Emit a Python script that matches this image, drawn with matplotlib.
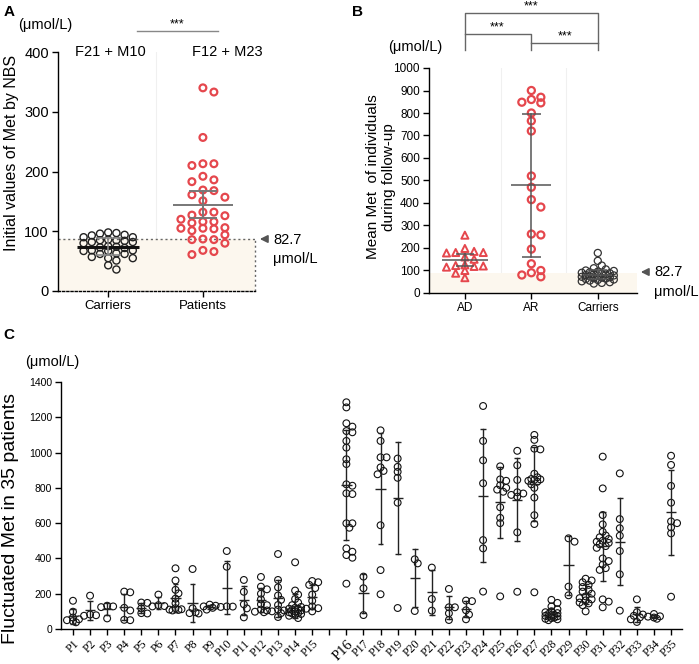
import numpy as np
import matplotlib
matplotlib.use("Agg")
import matplotlib.pyplot as plt

plt.rcParams['font.family'] = ['Liberation Sans', 'DejaVu Sans']

# ---- panel A: initial Met by NBS ----
a_groups = ['Carriers', 'Patients']
a_counts = ['F21 + M10', 'F12 + M23']
a_carriers = [98, 97, 96, 94, 93, 90, 90, 86, 85, 85, 84, 82, 82, 80, 75, 74,
              73, 72, 68, 68, 67, 67, 63, 62, 62, 57, 55, 55, 51, 43, 36]
a_patients = [340, 333, 257, 213, 213, 210, 192, 186, 183, 169, 168, 161, 157,
              151, 132, 132, 127, 126, 120, 116, 116, 114, 106, 105, 105, 104,
              101, 94, 87, 86, 86, 80, 68, 66, 61]
a_err = [14, 23]  # half-length of the bars as drawn

# ---- panel B: mean Met during follow-up ----
b_groups = ['AD', 'AR', 'Carriers']
b_ad = [257, 198, 185, 180, 180, 178, 160, 150, 125, 122, 120, 118, 115, 100, 88, 68]
b_ar = [900, 870, 860, 848, 845, 800, 765, 720, 520, 470, 415, 382, 262, 258,
        195, 130, 100, 90, 80, 72]
b_carriers = [178, 143, 122, 110, 105, 100, 98, 95, 92, 90, 88, 86, 85, 82, 80,
              78, 76, 74, 72, 70, 68, 66, 64, 62, 60, 58, 55, 52, 48, 45, 42]
b_err = [26, 318, 20]

cutoff_text = '82.7'
cutoff_line = 87

# ---- panel C: fluctuation per patient ----
c_labels = ['P%d' % i for i in range(1, 36)]
c_values = [
    [160, 98, 65, 55, 50, 45, 38],
    [189, 82, 78, 75],
    [132, 128, 124, 60],
    [212, 208, 120, 105, 52, 50],
    [150, 148, 117, 90, 88],
    [195, 135, 130, 128],
    [344, 275, 222, 202, 172, 146, 118, 112, 110, 108, 105],
    [340, 117, 95, 90, 88],
    [138, 132, 128, 120, 110],
    [442, 353, 128, 127, 125],
    [278, 211, 140, 117, 66],
    [295, 240, 225, 200, 168, 140, 135, 110, 105, 98, 95],
    [425, 278, 236, 190, 165, 136, 110, 105, 100, 90, 68],
    [378, 218, 195, 170, 150, 135, 125, 120, 115, 112, 108, 105, 100, 95, 90, 88, 85, 80, 75, 62],
    [272, 265, 250, 232, 195, 160, 128, 118, 115, 100],
    [1285, 1256, 1166, 1147, 1122, 1115, 1066, 1028, 962, 935, 820, 812, 769, 765,
     599, 599, 574, 457, 438, 419, 404, 257],
    [297, 231, 79],
    [1126, 1066, 973, 973, 916, 896, 877, 588, 334, 197],
    [966, 919, 891, 857, 716, 119],
    [395, 372, 102],
    [348, 170, 104],
    [227, 123, 123, 89, 51],
    [161, 158, 106, 82, 55],
    [1264, 1066, 956, 826, 504, 457, 212],
    [922, 848, 840, 815, 800, 790, 778, 690, 630, 600, 185],
    [1010, 928, 845, 775, 768, 760, 750, 548, 211],
    [1100, 1072, 1022, 1018, 880, 860, 850, 848, 845, 840, 835, 820, 800, 745, 645, 595, 208],
    [165, 148, 128, 112, 100, 95, 90, 85, 80, 78, 75, 72, 70, 65, 62, 58, 55, 50],
    [514, 495, 240, 191],
    [285, 275, 265, 250, 238, 222, 212, 200, 185, 175, 168, 162, 150, 145, 135, 100],
    [977, 797, 646, 593, 551, 530, 520, 510, 500, 495, 488, 480, 470, 460, 400, 385,
     365, 345, 335, 168, 155, 123],
    [882, 623, 571, 529, 442, 310, 104],
    [168, 95, 82, 75, 66, 55, 40],
    [85, 72, 70, 65, 58],
    [982, 930, 811, 716, 610, 600, 576, 542, 183],
]

RED = '#e5474d'
CREAM = '#fcf7ee'
W, H = 699, 664

fig = plt.figure(figsize=(W / 100, H / 100), dpi=100)


def axes_px(left, top, right, bottom):
    return fig.add_axes([left / W, 1 - bottom / H, (right - left) / W, (bottom - top) / H])


def ftext(x, y, s, **kw):
    fig.text(x / W, 1 - y / H, s, **kw)


def farrow(x_head, x_tail, y):
    fig.add_artist(matplotlib.patches.FancyArrowPatch(
        (x_tail, H - y), (x_head, H - y), transform=None,
        arrowstyle='-|>', mutation_scale=11, color='#555555', lw=1.3))


def swarm(ax, x0, vals, step, min_dist, max_off):
    """simple beeswarm (pixels); overlap allowed once max_off is reached"""
    vals = np.asarray(vals, dtype=float)
    t = ax.transData
    px_per_x = t.transform((1, 0))[0] - t.transform((0, 0))[0]
    py = t.transform(np.column_stack([np.zeros(len(vals)), vals]))[:, 1]
    cands = [0.0]
    k = 1
    while k * step <= max_off + 1e-9:
        cands += [k * step, -k * step]
        k += 1
    offs = np.zeros(len(vals))
    placed = []
    for i in np.argsort(-vals, kind='stable'):
        best, best_d = 0.0, -1
        for c in cands:
            d = min([np.hypot(c - ox, py[i] - oy) for ox, oy in placed] or [1e9])
            if d >= min_dist:
                best = c
                break
            if d > best_d:
                best, best_d = c, d
        placed.append((best, py[i]))
        offs[i] = best
    return x0 + offs / px_per_x


def bar(ax, x, m, e, half, cap, color, lw, mcolor=None, mlw=None, z=4):
    ax.plot([x - half, x + half], [m, m], color=mcolor or color, lw=mlw or lw, zorder=z,
            solid_capstyle='butt')
    ax.plot([x, x], [m - e, m + e], color=color, lw=lw, zorder=z)
    for yy in (m - e, m + e):
        ax.plot([x - cap, x + cap], [yy, yy], color=color, lw=lw, zorder=z,
                solid_capstyle='butt')


def style(ax, fs):
    for side in ('top', 'right'):
        ax.spines[side].set_visible(False)
    for side in ('left', 'bottom'):
        ax.spines[side].set_linewidth(1.0)
    ax.tick_params(width=1.0, length=4.5, labelsize=fs, pad=2)


# ================= A =================
axA = axes_px(58, 52, 255, 291)
axA.set_xlim(-0.53, 1.55)
axA.set_ylim(0, 400)
style(axA, 10.5)
axA.set_yticks(range(0, 401, 100))
axA.set_xticks([0, 1])
axA.set_xticklabels(a_groups, fontsize=9.5)
axA.spines['bottom'].set_linestyle((0, (1.5, 1.5)))
axA.axvline(0.5, color='#f0f0f0', lw=0.8, zorder=0)
axA.fill_between([-0.53, 1.55], 0, cutoff_line, color=CREAM, zorder=0, lw=0)
axA.plot([-0.53, 1.55], [cutoff_line] * 2, ls=(0, (1.5, 2)), color='#666666', lw=1, zorder=1)
axA.plot([1.55, 1.55], [0, cutoff_line], ls=(0, (1.5, 2)), color='#666666', lw=1,
         zorder=1, clip_on=False)

xs = swarm(axA, 0, a_carriers, 8.2, 6.8, 29)
axA.scatter(xs, a_carriers, s=26, facecolors='none', edgecolors='#222222', linewidths=1.0, zorder=3)
xs = swarm(axA, 1, a_patients, 11, 7.5, 23)
axA.scatter(xs, a_patients, s=24, facecolors='none', edgecolors=RED, linewidths=1.6, zorder=3)
bar(axA, 0, np.mean(a_carriers), a_err[0], 0.33, 0.13, '#888888', 1.2, mcolor='#111111', mlw=2.2)
bar(axA, 1, np.mean(a_patients), a_err[1], 0.32, 0.15, '#777777', 1.4)

for i, s in enumerate(a_counts):
    axA.text(i + 0.02 + 0.24 * i, 400, s, ha='center', va='center', fontsize=10.5, clip_on=False)

ftext(9, 12, 'A', fontsize=11, fontweight='bold', ha='center', va='center')
ftext(45, 25, '(μmol/L)', fontsize=10.5, ha='center', va='center')
fig.add_artist(matplotlib.lines.Line2D([137 / W, 218 / W], [1 - 31 / H] * 2, color='#888888', lw=1))
ftext(177, 24, '***', fontsize=9, ha='center', va='center')
ftext(12, 153, 'Initial values of Met by NBS', fontsize=11.5, rotation=90, ha='center', va='center')
farrow(257, 268, 239)
ftext(273, 240, cutoff_text, fontsize=10.5, ha='left', va='center')
ftext(273, 259, 'μmol/L', fontsize=10.5, ha='left', va='center')

# ================= B =================
axB = axes_px(429, 68, 637, 293)
axB.set_xlim(-0.54, 2.59)
axB.set_ylim(0, 1000)
style(axB, 8.5)
axB.set_yticks(range(0, 1001, 100))
axB.set_xticks([0, 1, 2])
axB.set_xticklabels(b_groups)
for xv in (0.55, 1.52):
    axB.axvline(xv, color='#f0f0f0', lw=0.8, zorder=0)
axB.fill_between([-0.54, 2.59], 0, cutoff_line, color=CREAM, zorder=0, lw=0)

xs = swarm(axB, 0, b_ad, 9.2, 7.0, 19)
axB.scatter(xs, b_ad, s=26, marker='^', facecolors='none', edgecolors=RED, linewidths=1.4, zorder=3)
xs = swarm(axB, 1, b_ar, 9.5, 7.5, 10)
axB.scatter(xs, b_ar, s=26, facecolors='none', edgecolors=RED, linewidths=1.6, zorder=3)
xs = swarm(axB, 2, b_carriers, 4, 5, 18)
axB.scatter(xs, b_carriers, s=26, facecolors='none', edgecolors='#333333', linewidths=0.9, zorder=3)
for i, (vals, e) in enumerate(zip([b_ad, b_ar, b_carriers], b_err)):
    half = [0.35, 0.3, 0.22][i]
    bar(axB, i, np.mean(vals), e, half, 0.14, '#555555', 1.1)

tB = axB.get_xaxis_transform()
bkw = dict(color='#666666', lw=1, transform=tB, clip_on=False)
axB.plot([0, 0, 2, 2], [1.08, 1.244, 1.244, 1.08], **bkw)
axB.plot([0, 1, 1], [1.151, 1.151, 1.08], **bkw)
axB.plot([1, 2], [1.111, 1.111], **bkw)
for xv, yv in [(1, 1.275), (0.48, 1.18), (1.5, 1.14)]:
    axB.text(xv, yv, '***', transform=tB, ha='center', va='center', fontsize=9)

ftext(358, 12, 'B', fontsize=11, fontweight='bold', ha='center', va='center')
ftext(415, 47, '(μmol/L)', fontsize=10.5, ha='center', va='center')
ftext(381, 177, 'Mean Met  of individuals\nduring follow-up', fontsize=11, rotation=90,
      ha='center', va='center', linespacing=1.2)
farrow(638, 649, 272)
ftext(654, 272, cutoff_text, fontsize=10.5, ha='left', va='center')
ftext(654, 292, 'μmol/L', fontsize=10.5, ha='left', va='center')

# ================= C =================
axC = axes_px(61, 382, 682, 629)
axC.set_xlim(0.3, 36.64)
axC.set_ylim(0, 1400)
style(axC, 7.5)
axC.set_yticks(range(0, 1401, 200))

# empty slot between P15 and P16
c_pos = [i + 1 if i < 15 else i + 2 for i in range(len(c_labels))]
axC.set_xticks(range(1, 37))
tick_text = c_labels[:15] + [''] + c_labels[15:]
axC.set_xticklabels(tick_text, rotation=45, ha='right', va='top', rotation_mode='anchor',
                    family=['Liberation Serif', 'DejaVu Serif'], fontsize=8.5)
for lab in axC.get_xticklabels():
    if lab.get_text() == 'P16':
        lab.set_fontsize(10.5)

for p, vals in zip(c_pos, c_values):
    xs = swarm(axC, p, vals, 3, 4.5, 6)
    axC.scatter(xs, vals, s=24, facecolors='none', edgecolors='#111111', linewidths=0.8, zorder=3)
    m = np.mean(vals)
    sd = np.std(vals, ddof=1)
    bar(axC, p, m, sd, 0.3, 0.17, '#222222', 1.0)

ftext(9, 335, 'C', fontsize=11, fontweight='bold', ha='center', va='center')
ftext(52, 362, '(μmol/L)', fontsize=10.5, ha='center', va='center')
ftext(11, 518, 'Fluctuated Met in 35 patients', fontsize=14, rotation=90, ha='center', va='center')

fig.savefig('out.png', dpi=100)
